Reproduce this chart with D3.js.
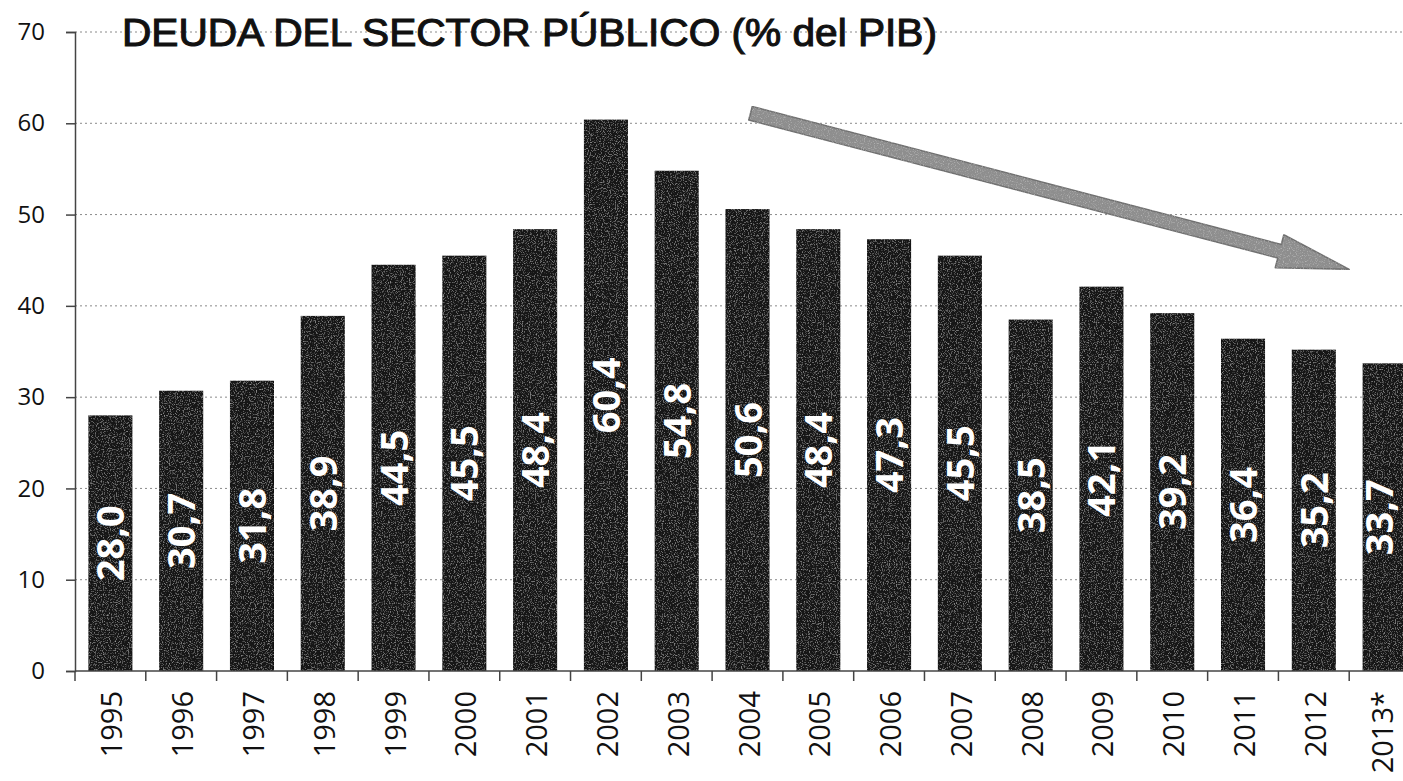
<!DOCTYPE html>
<html>
<head>
<meta charset="utf-8">
<script src="https://cdn.jsdelivr.net/npm/d3@7"></script>
<style>
  html, body { margin: 0; padding: 0; background: #fff; }
  svg { display: block; }
</style>
</head>
<body>
<svg id="chart" width="1403" height="781"></svg>
<script>
// Deuda del sector público, % del PIB
const years = ["1995","1996","1997","1998","1999","2000","2001","2002","2003","2004",
               "2005","2006","2007","2008","2009","2010","2011","2012","2013*"];
const debt = [28.0, 30.7, 31.8, 38.9, 44.5, 45.5, 48.4, 60.4, 54.8, 50.6,
              48.4, 47.3, 45.5, 38.5, 42.1, 39.2, 36.4, 35.2, 33.7];
const yTicks = [0, 10, 20, 30, 40, 50, 60, 70];
const titleText = "DEUDA DEL SECTOR PÚBLICO (% del PIB)";
// downward trend arrow, in data terms
const trendFrom = { year: "2004", value: 61.1 };
const trendTo   = { year: "2012", value: 44.0 };

const W = 1403, H = 781;
const svg = d3.select("#chart");

const x = d3.scaleBand().domain(years).range([75, 1420]).paddingInner(0.378).paddingOuter(0.189);
const y = d3.scaleLinear().domain([0, 70]).range([671, 32]);
const step = x.step(), bw = x.bandwidth();
const cx = d => x(d) + bw / 2;

const defs = svg.append("defs");
const grain = defs.append("filter").attr("id", "grain").attr("x", 0).attr("y", 0).attr("width", 1).attr("height", 1);
grain.append("feTurbulence").attr("type", "fractalNoise").attr("baseFrequency", 0.85).attr("numOctaves", 2).attr("seed", 3).attr("result", "noise");
grain.append("feColorMatrix").attr("in", "noise").attr("type", "matrix")
  .attr("values", "0 0 0 0 1  0 0 0 0 1  0 0 0 0 1  0.8 0 0 0 -0.42").attr("result", "speck");
grain.append("feComposite").attr("in", "speck").attr("in2", "SourceGraphic").attr("operator", "in").attr("result", "speckIn");
const merge = grain.append("feMerge");
merge.append("feMergeNode").attr("in", "SourceGraphic");
merge.append("feMergeNode").attr("in", "speckIn");

// dotted gridlines
svg.append("g").selectAll("line").data(yTicks.filter(v => v > 0)).join("line")
  .attr("x1", 75).attr("x2", W).attr("y1", d => y(d)).attr("y2", d => y(d))
  .attr("stroke", "#8a8a8a").attr("stroke-width", 1).attr("stroke-dasharray", "2,3");

// title
svg.append("text")
  .attr("x", 122).attr("y", 46)
  .attr("font-family", "Liberation Sans, Arial, sans-serif")
  .attr("font-size", 39).attr("fill", "#111")
  .attr("stroke", "#111").attr("stroke-width", 1.1)
  .attr("textLength", 815).attr("lengthAdjust", "spacingAndGlyphs")
  .text(titleText);

// bars
svg.append("g").selectAll("rect")
  .data(years.map((yr, i) => ({ yr, v: debt[i] }))).join("rect")
  .attr("x", d => x(d.yr)).attr("width", bw)
  .attr("y", d => y(d.v)).attr("height", d => y(0) - y(d.v))
  .attr("fill", "#121212").attr("filter", "url(#grain)");

// value labels, rotated, centered on each bar
const fmt = v => d3.format(".1f")(v).replace(".", ",");
svg.append("g").selectAll("text")
  .data(years.map((yr, i) => ({ yr, v: debt[i] }))).join("text")
  .attr("transform", d => `translate(${Math.min(cx(d.yr) + 14, W - 10)},${(y(d.v) + y(0)) / 2}) rotate(-90)`)
  .attr("text-anchor", "middle")
  .attr("font-family", "Open Sans, sans-serif").attr("font-weight", 700)
  .attr("font-size", 38).attr("fill", "#fff")
  .text(d => fmt(d.v));

// y axis
const yAxis = d3.axisLeft(y).tickValues(yTicks).tickSize(9).tickPadding(21).tickFormat(d3.format("d"));
const gy = svg.append("g").attr("transform", "translate(75,0)").call(yAxis);
gy.select(".domain").attr("stroke", "#444").attr("stroke-width", 1.5);
gy.selectAll(".tick line").attr("stroke", "#444").attr("stroke-width", 1.5);
gy.selectAll(".tick text").attr("font-family", "Open Sans, sans-serif").attr("font-size", 24).attr("fill", "#111");

// x axis line and category separators
svg.append("line").attr("x1", 75).attr("x2", W).attr("y1", y(0)).attr("y2", y(0))
  .attr("stroke", "#444").attr("stroke-width", 1.5);
const bounds = years.map(d => cx(d) - step / 2).concat([cx(years[years.length - 1]) + step / 2]);
svg.append("g").selectAll("line").data(bounds).join("line")
  .attr("x1", d => d).attr("x2", d => d).attr("y1", y(0)).attr("y2", y(0) + 10)
  .attr("stroke", "#444").attr("stroke-width", 1.5);

// year labels
svg.append("g").selectAll("text").data(years).join("text")
  .attr("transform", d => `translate(${Math.min(cx(d) + 12, W - 10)},691) rotate(-90)`)
  .attr("text-anchor", "end")
  .attr("font-family", "Open Sans, sans-serif").attr("font-size", 29).attr("fill", "#111")
  .text(d => d);

// trend arrow
const S = [cx(trendFrom.year) + 3, y(trendFrom.value)];
const T = [cx(trendTo.year) + step / 2, y(trendTo.value)];
const dx = T[0] - S[0], dy = T[1] - S[1], L = Math.hypot(dx, dy);
const u = [dx / L, dy / L], n = [-u[1], u[0]];
const shaftHalf = 7, headHalf = 17, headLen = 72;
const B = [T[0] - u[0] * headLen, T[1] - u[1] * headLen];
const pt = (p, k) => [p[0] + n[0] * k, p[1] + n[1] * k];
const arrowPts = [pt(S, shaftHalf), pt(B, shaftHalf), pt(B, headHalf), T, pt(B, -headHalf), pt(B, -shaftHalf), pt(S, -shaftHalf)];
svg.append("path")
  .attr("d", d3.line()(arrowPts) + "Z")
  .attr("fill", "#8e8e8e").attr("stroke", "#707070").attr("stroke-width", 1.5)
  .attr("stroke-linejoin", "round").attr("filter", "url(#grain)");
</script>
</body>
</html>
